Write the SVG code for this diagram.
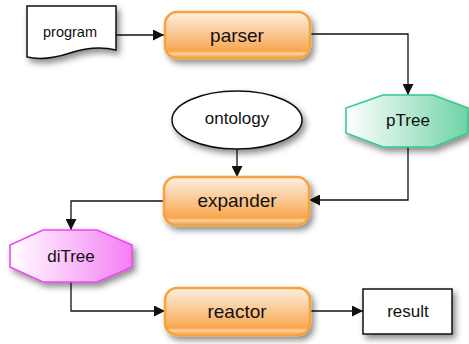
<svg xmlns="http://www.w3.org/2000/svg" width="469" height="344" viewBox="0 0 469 344">
<style>
text{font-family:"Liberation Sans",Arial,sans-serif;fill:#111;text-anchor:middle;dominant-baseline:central}
.proc{fill:url(#og);stroke:#f7a23c;stroke-width:2.5}
.plain{fill:#fff;stroke:#111;stroke-width:1.5}
.edge{fill:none;stroke:#111;stroke-width:1.3}
.pl{font-size:19px}
.lbl{font-size:17px}
</style>
<defs>
<filter id="sh" x="-20%" y="-20%" width="150%" height="160%">
<feDropShadow dx="3" dy="4" stdDeviation="3" flood-color="#000" flood-opacity="0.45"/>
</filter>
<linearGradient id="og" x1="0" y1="0" x2="0" y2="1">
<stop offset="0" stop-color="#fdf0e2"/>
<stop offset="0.75" stop-color="#f9b062"/>
<stop offset="0.85" stop-color="#f8a545"/>
<stop offset="0.9" stop-color="#fbd0a0"/>
<stop offset="1" stop-color="#f8a545"/>
</linearGradient>
<linearGradient id="gg" x1="0" y1="0" x2="1" y2="0">
<stop offset="0" stop-color="#ffffff"/>
<stop offset="1" stop-color="#6fd3a6"/>
</linearGradient>
<linearGradient id="mg" x1="0" y1="0" x2="1" y2="0">
<stop offset="0" stop-color="#ffffff"/>
<stop offset="1" stop-color="#f57ef5"/>
</linearGradient>
<marker id="ar" viewBox="0 0 10 10" refX="10" refY="5" markerWidth="11" markerHeight="11" markerUnits="userSpaceOnUse" orient="auto">
<path d="M0,0 L10,5 L0,10 Z" fill="#111"/>
</marker>
</defs>
<g id="connectors">
<path class="edge" d="M116,35 H164" marker-end="url(#ar)"/>
<path class="edge" d="M310,34 H408 V95" marker-end="url(#ar)"/>
<path class="edge" d="M408,147 V200 H309" marker-end="url(#ar)"/>
<path class="edge" d="M237,149 V177" marker-end="url(#ar)"/>
<path class="edge" d="M164,201 H71 V230" marker-end="url(#ar)"/>
<path class="edge" d="M71,282 V311 H165" marker-end="url(#ar)"/>
<path class="edge" d="M310,311 H363" marker-end="url(#ar)"/>
</g>
<g id="program">
<path class="plain" filter="url(#sh)" d="M27,6 H116 V50 C100,46 85,48 70,53 C55,58 40,60 27,57 Z"/>
<text x="70" y="32" font-size="14.5">program</text>
</g>
<g id="parser">
<rect class="proc" filter="url(#sh)" x="165" y="12" width="145" height="46" rx="12"/>
<text class="pl" x="237" y="35">parser</text>
</g>
<g id="pTree">
<polygon filter="url(#sh)" points="383,95 433,95 468,108 468,133 433,147 383,147 346,133 346,108" fill="url(#gg)" stroke="#2fcb8b" stroke-width="1.5"/>
<text class="lbl" x="408" y="120">pTree</text>
</g>
<g id="ontology">
<ellipse class="plain" filter="url(#sh)" cx="237" cy="120" rx="65" ry="29"/>
<text class="lbl" x="237" y="118">ontology</text>
</g>
<g id="expander">
<rect class="proc" filter="url(#sh)" x="164" y="177" width="145" height="48" rx="12"/>
<text class="pl" x="237" y="200">expander</text>
</g>
<g id="diTree">
<polygon filter="url(#sh)" points="43,230 97,230 132,245 132,267 97,282 43,282 10,267 10,245" fill="url(#mg)" stroke="#ef45ef" stroke-width="1.5"/>
<text class="lbl" x="71" y="256">diTree</text>
</g>
<g id="reactor">
<rect class="proc" filter="url(#sh)" x="165" y="288" width="145" height="47" rx="12"/>
<text class="pl" x="237" y="311">reactor</text>
</g>
<g id="result">
<rect class="plain" filter="url(#sh)" x="363" y="289" width="89" height="45"/>
<text class="lbl" x="408" y="311">result</text>
</g>
</svg>
